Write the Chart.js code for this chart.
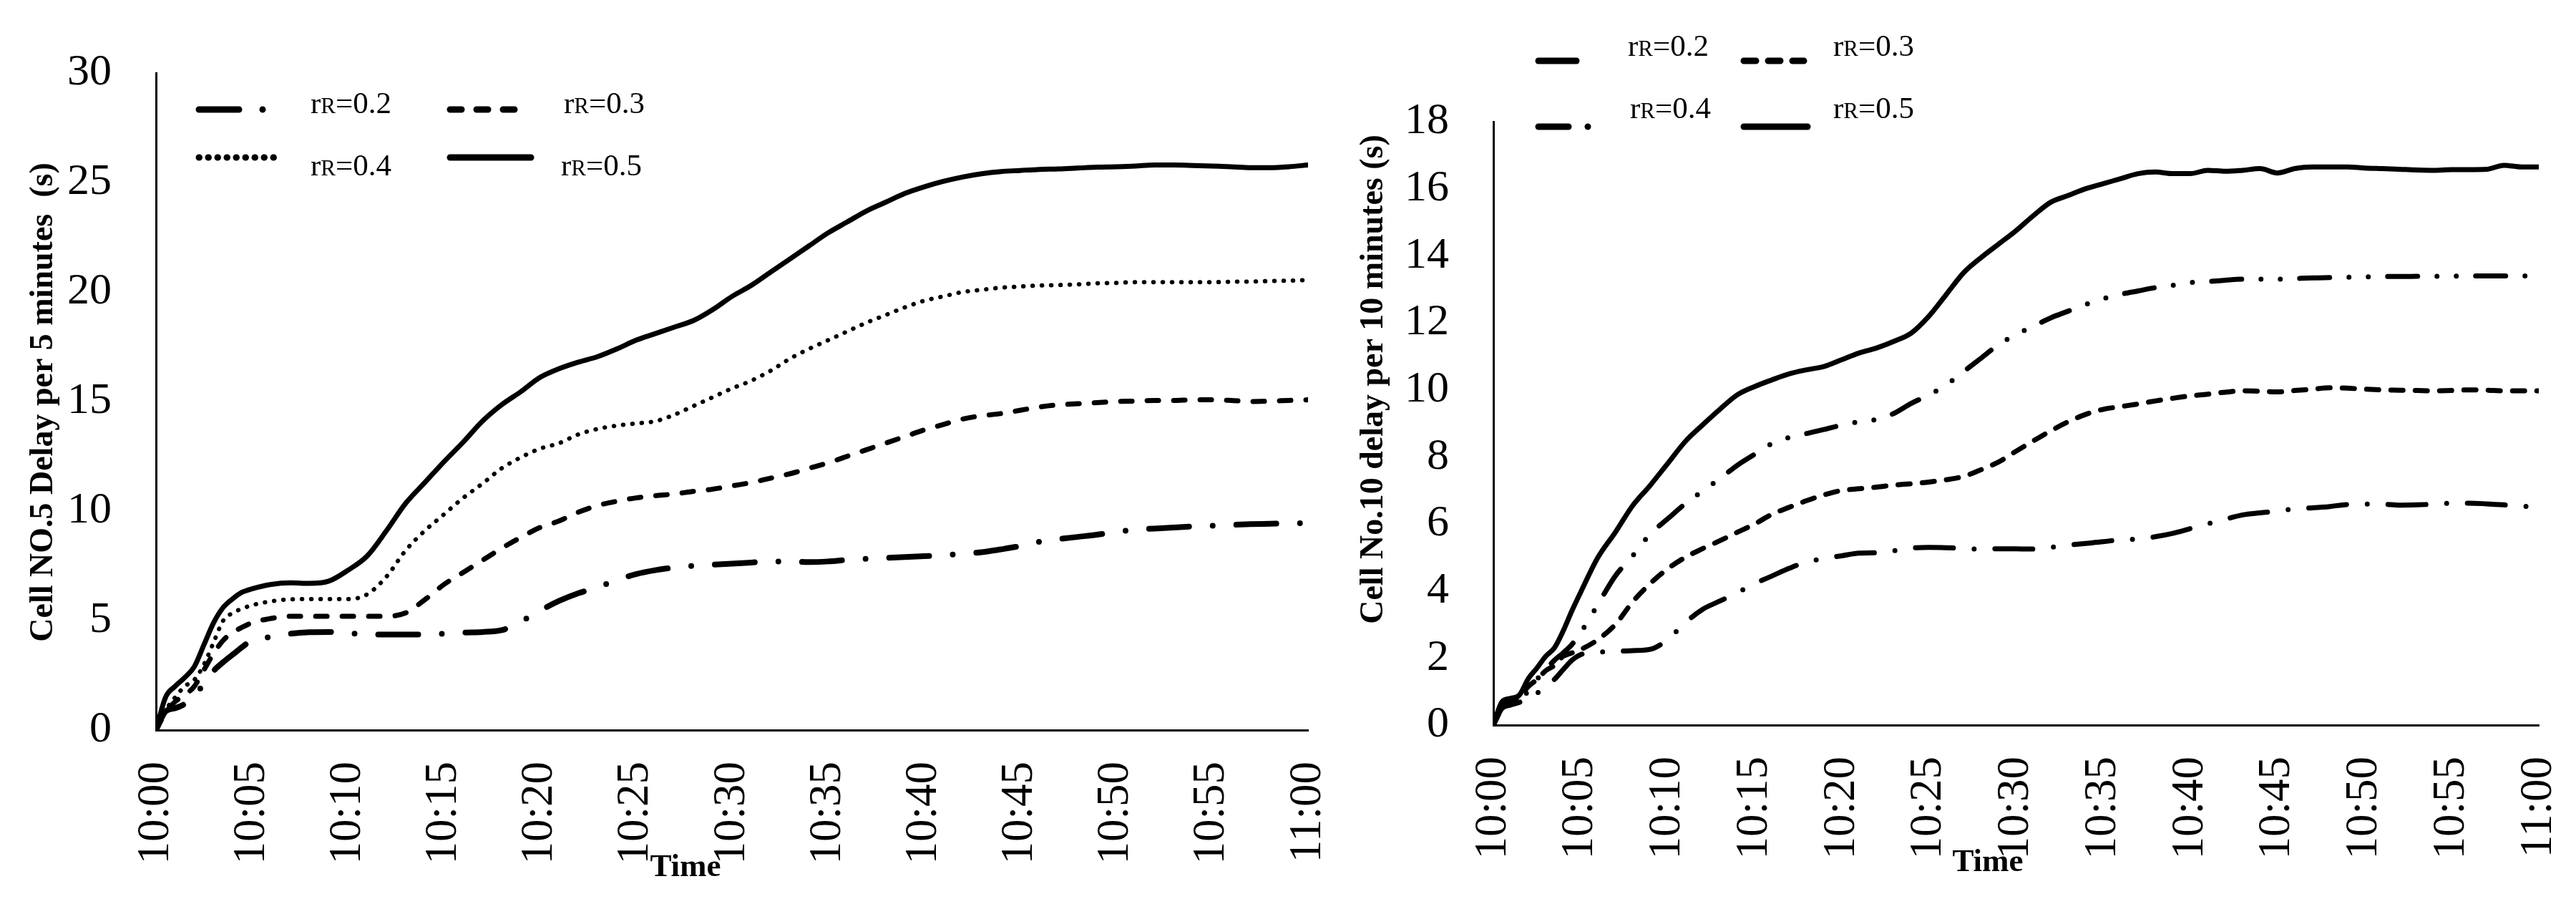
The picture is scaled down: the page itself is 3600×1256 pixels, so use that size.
<!DOCTYPE html>
<html lang="en">
<head>
  <meta charset="UTF-8">
  <title>Cell delay per interval</title>
  <style>
    body {
      margin: 0;
      padding: 0;
      background-color: #fff;
      width: 3600px;
      height: 1256px;
      overflow: hidden;
      position: relative;
    }
    canvas {
      position: absolute;
      top: 0;
    }
    #cell5 { left: 0; }
    #cell10 { left: 1880px; }
  </style>
</head>
<body>
  <canvas id="cell5" width="1880" height="1256"></canvas>
  <canvas id="cell10" width="1720" height="1256"></canvas>

  <script src="https://cdn.jsdelivr.net/npm/chart.js"></script>
  <script>
    // minutes after 10:00
    const minutes = [0, 0.5, 1, 1.5, 2, 2.5, 3, 3.5, 4, 4.5, 5,
      6, 7, 8, 9, 10, 11, 12, 13, 14, 15, 16, 17, 18, 19, 20,
      21, 22, 23, 24, 25, 26, 27, 28, 29, 30, 31, 32, 33, 34, 35,
      36, 37, 38, 39, 40, 41, 42, 43, 44, 45, 46, 47, 48, 49, 50,
      51, 52, 53, 54, 55, 56, 57, 58, 59, 60];
    const timeLabels = ['10:00', '10:05', '10:10', '10:15', '10:20', '10:25', '10:30',
      '10:35', '10:40', '10:45', '10:50', '10:55', '11:00'];
    const seriesLabels = ['rR=0.2', 'rR=0.3', 'rR=0.4', 'rR=0.5'];

    // Cell NO.5, delay per 5 minutes (s)
    const cell5R02 = [0, 0.85, 1.0, 1.2, 1.6, 2.1, 2.7, 3.1, 3.45, 3.8, 4.1,
      4.25, 4.4, 4.47, 4.48, 4.42, 4.38, 4.36, 4.36, 4.36, 4.4, 4.45, 4.48, 4.56, 4.95, 5.45,
      5.9, 6.25, 6.52, 6.85, 7.12, 7.3, 7.42, 7.5, 7.55, 7.6, 7.65, 7.7, 7.7, 7.67, 7.7,
      7.77, 7.82, 7.86, 7.9, 7.94, 7.98, 8.05, 8.12, 8.25, 8.4, 8.6, 8.72, 8.82, 8.92, 9.05,
      9.15, 9.2, 9.25, 9.3, 9.33, 9.37, 9.4, 9.42, 9.44, 9.45];
    const cell5R03 = [0, 0.8, 1.3, 1.6, 2.0, 2.75, 3.5, 4.1, 4.45, 4.7, 4.9,
      5.1, 5.2, 5.2, 5.2, 5.2, 5.2, 5.2, 5.35, 5.95, 6.65, 7.2, 7.75, 8.3, 8.8, 9.25,
      9.55, 9.95, 10.25, 10.45, 10.6, 10.7, 10.78, 10.9, 11.0, 11.15, 11.3, 11.5, 11.7, 11.95, 12.2,
      12.5, 12.8, 13.1, 13.4, 13.7, 13.95, 14.2, 14.35, 14.45, 14.6, 14.75, 14.85, 14.9, 14.95, 15.0,
      15.02, 15.05, 15.05, 15.08, 15.08, 15.05, 15.0, 15.02, 15.05, 15.08];
    const cell5R04 = [0, 0.9, 1.5, 2.0, 2.3, 3.0, 4.0, 5.0, 5.35, 5.55, 5.7,
      5.88, 5.97, 5.98, 5.98, 5.98, 6.2, 7.0, 8.2, 9.1, 9.85, 10.6, 11.25, 11.95, 12.45, 12.85,
      13.1, 13.5, 13.75, 13.9, 14.0, 14.1, 14.4, 14.8, 15.2, 15.6, 15.95, 16.4, 16.95, 17.4, 17.8,
      18.2, 18.6, 18.95, 19.3, 19.6, 19.8, 20.0, 20.1, 20.2, 20.25, 20.3, 20.32, 20.35, 20.4, 20.42,
      20.45, 20.45, 20.45, 20.45, 20.45, 20.47, 20.48, 20.5, 20.52, 20.55];
    const cell5R05 = [0, 1.5, 2.0, 2.4, 2.9, 3.9, 4.9, 5.6, 6.0, 6.3, 6.45,
      6.65, 6.72, 6.7, 6.8, 7.3, 7.95, 9.1, 10.35, 11.3, 12.25, 13.15, 14.1, 14.85, 15.45, 16.1,
      16.5, 16.8, 17.05, 17.4, 17.8, 18.1, 18.4, 18.7, 19.2, 19.8, 20.3, 20.9, 21.5, 22.1, 22.7,
      23.2, 23.7, 24.1, 24.5, 24.8, 25.05, 25.25, 25.4, 25.5, 25.55, 25.6, 25.62, 25.66, 25.7, 25.72,
      25.75, 25.8, 25.8, 25.78, 25.75, 25.72, 25.68, 25.68, 25.72, 25.8];

    // Cell No.10, delay per 10 minutes (s)
    const cell10R02 = [0, 0.5, 0.6, 0.68, 0.8, 0.95, 1.15, 1.36, 1.65, 1.93, 2.1,
      2.17, 2.2, 2.22, 2.26, 2.55, 3.05, 3.45, 3.7, 3.95, 4.22, 4.45, 4.68, 4.87, 4.97, 5.05,
      5.13, 5.14, 5.2, 5.28, 5.3, 5.29, 5.27, 5.25, 5.26, 5.26, 5.25, 5.3, 5.37, 5.42, 5.47,
      5.53, 5.55, 5.62, 5.72, 5.86, 6.0, 6.14, 6.27, 6.33, 6.38, 6.45, 6.48, 6.52, 6.58, 6.59,
      6.59, 6.56, 6.57, 6.59, 6.62, 6.62, 6.6, 6.57, 6.53, 6.52];
    const cell10R03 = [0, 0.5, 0.7, 0.85, 1.15, 1.36, 1.62, 1.78, 2.05, 2.15, 2.25,
      2.55, 3.0, 3.68, 4.22, 4.66, 5.0, 5.26, 5.5, 5.75, 6.0, 6.29, 6.5, 6.7, 6.87, 7.0,
      7.05, 7.1, 7.16, 7.2, 7.25, 7.32, 7.42, 7.62, 7.85, 8.17, 8.48, 8.78, 9.05, 9.27, 9.42,
      9.5, 9.58, 9.67, 9.75, 9.82, 9.87, 9.93, 9.97, 9.96, 9.94, 9.98, 10.02, 10.06, 10.05, 10.02,
      10.0, 9.99, 9.98, 9.97, 9.98, 10.0, 9.99, 9.97, 9.97, 9.97];
    const cell10R04 = [0, 0.6, 0.72, 0.82, 1.0, 1.36, 1.65, 1.93, 2.15, 2.4, 2.75,
      3.6, 4.45, 5.05, 5.7, 6.15, 6.6, 6.98, 7.35, 7.75, 8.08, 8.4, 8.58, 8.7, 8.82, 8.95,
      9.05, 9.12, 9.3, 9.6, 9.85, 10.15, 10.55, 10.95, 11.35, 11.65, 11.9, 12.15, 12.35, 12.55, 12.72,
      12.85, 12.95, 13.05, 13.12, 13.2, 13.23, 13.27, 13.3, 13.3, 13.3, 13.32, 13.34, 13.35, 13.36, 13.37,
      13.38, 13.38, 13.39, 13.39, 13.39, 13.4, 13.4, 13.4, 13.4, 13.4];
    const cell10R05 = [0, 0.7, 0.8, 0.9, 1.38, 1.7, 2.05, 2.3, 2.8, 3.4, 3.95,
      5.0, 5.75, 6.55, 7.15, 7.8, 8.45, 8.95, 9.42, 9.85, 10.1, 10.3, 10.48, 10.6, 10.7, 10.9,
      11.1, 11.25, 11.45, 11.7, 12.2, 12.85, 13.5, 13.95, 14.35, 14.75, 15.2, 15.6, 15.8, 16.0, 16.15,
      16.3, 16.45, 16.5, 16.45, 16.45, 16.55, 16.52, 16.55, 16.6, 16.47, 16.6, 16.65, 16.65, 16.65, 16.62,
      16.6, 16.58, 16.56, 16.55, 16.57, 16.57, 16.58, 16.7, 16.65, 16.65];

    const serif = '"Liberation Serif", "Times New Roman", serif';

    // axis titles and the two-column key, drawn straight on the canvas
    const paperText = {
      id: 'paperText',
      afterDraw(chart, args, opts) {
        const ctx = chart.ctx;
        ctx.save();
        ctx.fillStyle = '#000';

        ctx.save();
        ctx.translate(opts.yTitle.x, opts.yTitle.y);
        ctx.rotate(-Math.PI / 2);
        ctx.font = 'bold 46px ' + serif;
        ctx.textAlign = 'center';
        ctx.textBaseline = 'middle';
        ctx.fillText(opts.yTitle.text, 0, 0);
        ctx.restore();

        ctx.font = 'bold 45px ' + serif;
        ctx.textAlign = 'center';
        ctx.textBaseline = 'middle';
        ctx.fillText(opts.xTitle.text, opts.xTitle.x, opts.xTitle.y);

        chart.data.datasets.forEach(function(ds, i) {
          const it = opts.key[i];
          ctx.save();
          ctx.strokeStyle = '#000';
          ctx.lineWidth = 9;
          ctx.lineCap = 'round';
          ctx.setLineDash(ds.borderDash || []);
          ctx.beginPath();
          ctx.moveTo(it.x1, it.y);
          ctx.lineTo(it.x2, it.y);
          ctx.stroke();
          ctx.restore();

          // "r" then a small capital "R", then the value
          const lab = ds.label;
          ctx.textAlign = 'left';
          ctx.textBaseline = 'alphabetic';
          let x = it.tx;
          ctx.font = '43px ' + serif;
          ctx.fillText(lab[0], x, it.ty);
          x += ctx.measureText(lab[0]).width;
          ctx.font = '31px ' + serif;
          ctx.fillText(lab[1], x, it.ty);
          x += ctx.measureText(lab[1]).width;
          ctx.font = '43px ' + serif;
          ctx.fillText(lab.slice(2), x, it.ty);
        });
        ctx.restore();
      }
    };

    function makeSet(label, values, dash, width) {
      return {
        label: label,
        data: minutes.map(function(m, i) { return { x: m, y: values[i] }; }),
        borderColor: '#000',
        borderWidth: width,
        borderDash: dash,
        borderCapStyle: 'round',
        borderJoinStyle: 'round',
        pointRadius: 0,
        fill: false,
        cubicInterpolationMode: 'monotone'
      };
    }

    function renderChart(id, sets, yMax, yStep, axisW, axisH, padTop, padRight, texts) {
      return new Chart(document.getElementById(id), {
        type: 'line',
        data: { datasets: sets },
        plugins: [paperText],
        options: {
          responsive: false,
          animation: false,
          devicePixelRatio: 1,
          layout: { padding: { left: 0, right: padRight, top: padTop, bottom: 0 } },
          plugins: {
            legend: { display: false },
            tooltip: { enabled: false },
            paperText: texts
          },
          scales: {
            x: {
              type: 'linear',
              min: 0,
              max: 60,
              grid: { display: false, drawTicks: false },
              border: { display: true, color: '#000', width: 3 },
              afterFit: function(scale) {
                scale.height = axisH;
                // rotated labels otherwise eat into the plot width
                scale.paddingLeft = 0;
                scale.paddingRight = 0;
              },
              ticks: {
                stepSize: 5,
                autoSkip: false,
                maxRotation: 90,
                minRotation: 90,
                padding: 44,
                color: '#000',
                font: { family: serif, size: 63 },
                callback: function(v) { return v % 5 === 0 ? timeLabels[v / 5] : ''; }
              }
            },
            y: {
              min: 0,
              max: yMax,
              grid: { display: false, drawTicks: false },
              border: { display: true, color: '#000', width: 3 },
              afterFit: function(scale) { scale.width = axisW; },
              ticks: {
                stepSize: yStep,
                padding: 62,
                color: '#000',
                font: { family: serif, size: 62 }
              }
            }
          }
        }
      });
    }

    renderChart('cell5', [
      makeSet(seriesLabels[0], cell5R02, [56, 33, 0, 33], 8),
      makeSet(seriesLabels[1], cell5R03, [16, 21], 7),
      makeSet(seriesLabels[2], cell5R04, [0.5, 12.5], 6),
      makeSet(seriesLabels[3], cell5R05, [], 7)
    ], 30, 5, 218, 236, 102, 52, {
      yTitle: { text: 'Cell NO.5 Delay per 5 minutes  (s)', x: 61, y: 562 },
      xTitle: { text: 'Time', x: 958, y: 1212 },
      key: [
        { x1: 278, x2: 369, y: 153, tx: 434, ty: 158 },
        { x1: 629, x2: 739, y: 153, tx: 788, ty: 158 },
        { x1: 278, x2: 391, y: 220, tx: 434, ty: 245 },
        { x1: 629, x2: 742, y: 220, tx: 784, ty: 245 }
      ]
    });

    renderChart('cell10', [
      makeSet(seriesLabels[0], cell10R02, [53, 29, 0, 29], 7),
      makeSet(seriesLabels[1], cell10R03, [17, 17], 7),
      makeSet(seriesLabels[2], cell10R04, [42, 27, 0, 27, 0, 27], 7),
      makeSet(seriesLabels[3], cell10R05, [], 7)
    ], 18, 2, 207, 243, 170, 52, {
      yTitle: { text: 'Cell No.10 delay per 10 minutes (s)', x: 40, y: 530 },
      xTitle: { text: 'Time', x: 898, y: 1205 },
      key: [
        { x1: 270, x2: 351, y: 85, tx: 395, ty: 78 },
        { x1: 557, x2: 641, y: 85, tx: 682, ty: 78 },
        { x1: 270, x2: 366, y: 177, tx: 398, ty: 165 },
        { x1: 557, x2: 646, y: 177, tx: 682, ty: 165 }
      ]
    });
  </script>
</body>
</html>
